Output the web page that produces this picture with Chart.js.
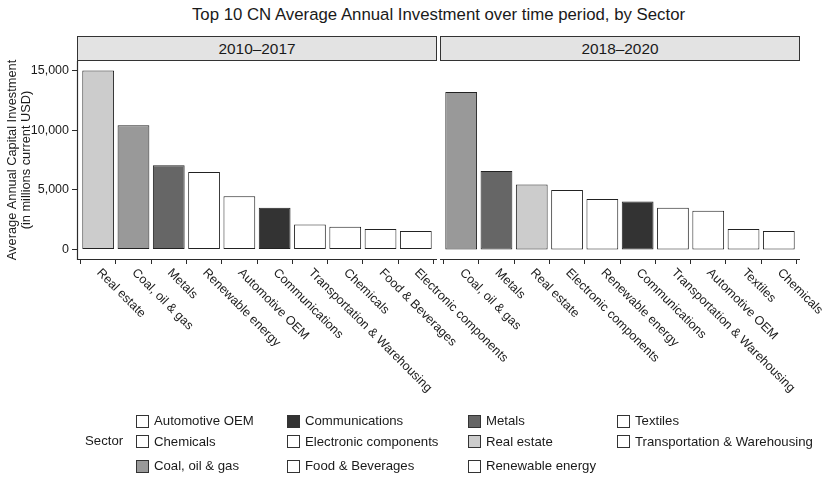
<!DOCTYPE html>
<html lang="en">
<head>
  <meta charset="UTF-8">
  <title>Top 10 CN Average Annual Investment</title>
  <script src="https://cdn.jsdelivr.net/npm/chart.js"></script>
  <style>
    body { margin: 0; width: 827px; height: 477px; position: relative; overflow: hidden; background: #fff;
           font-family: "Liberation Sans", Arial, sans-serif; color: #1a1a1a; }
    canvas { position: absolute; left: 0; top: 0; }
    #title { position: absolute; left: 77px; width: 723px; top: 5px; line-height: 20px; font-size: 16.8px; text-align: center; }
    .strip { position: absolute; top: 36px; height: 25px; width: 360px; box-sizing: border-box; border: 1px solid #333;
             background: #e3e3e3; text-align: center; line-height: 23px; font-size: 15.4px; }
    #legend .key { position: absolute; width: 13px; height: 13px; box-sizing: border-box; border: 1px solid #333; }
    #legend .lab { position: absolute; font-size: 13.2px; line-height: 16px; white-space: nowrap; }
  </style>
</head>
<body>
  <div id="title">Top 10 CN Average Annual Investment over time period, by Sector</div>
  <canvas id="left" width="827" height="477"></canvas>
  <canvas id="right" width="827" height="477"></canvas>
  <div class="strip" style="left:77px">2010–2017</div>
  <div class="strip" style="left:440px">2018–2020</div>
  <div id="legend"></div>

  <script>
    // sectors in legend order, and their fill
    const sectors = ['Automotive OEM', 'Chemicals', 'Coal, oil & gas', 'Communications', 'Electronic components',
                     'Food & Beverages', 'Metals', 'Real estate', 'Renewable energy', 'Textiles', 'Transportation & Warehousing'];
    const sectorFill = {
      'Coal, oil & gas': '#999999', 'Communications': '#333333', 'Metals': '#666666', 'Real estate': '#cccccc'
    };

    const periods = ['2010–2017', '2018–2020'];
    const cats2010 = ['Real estate', 'Coal, oil & gas', 'Metals', 'Renewable energy', 'Automotive OEM', 'Communications',
                      'Transportation & Warehousing', 'Chemicals', 'Food & Beverages', 'Electronic components'];
    const vals2010 = [15000, 10400, 7050, 6500, 4460, 3510, 2090, 1920, 1730, 1560];
    const cats2018 = ['Coal, oil & gas', 'Metals', 'Real estate', 'Electronic components', 'Renewable energy', 'Communications',
                      'Transportation & Warehousing', 'Automotive OEM', 'Textiles', 'Chemicals'];
    const vals2018 = [13190, 6580, 5440, 4990, 4240, 4020, 3510, 3260, 1730, 1560];
    const yTicks = [0, 5000, 10000, 15000];

    const FONT = '"Liberation Sans", Arial, sans-serif';
    const INK = '#1a1a1a';
    const LINE = '#2b2b2b';

    function fillOf(s) { return sectorFill[s] || '#ffffff'; }

    // axis lines + ggplot-style slanted labels (start at the tick, run down to the right)
    const panelDecor = {
      id: 'panelDecor',
      afterDraw(chart, args, opts) {
        const sx = chart.scales.x;
        const area = chart.chartArea;
        const ctx = chart.ctx;
        ctx.save();
        ctx.strokeStyle = LINE;
        ctx.lineWidth = 1.2;
        ctx.beginPath();
        ctx.moveTo(area.left, Math.round(area.bottom) + 0.5);
        ctx.lineTo(area.right, Math.round(area.bottom) + 0.5);
        if (opts.yLine) {
          ctx.moveTo(Math.round(area.left) + 0.5, area.top);
          ctx.lineTo(Math.round(area.left) + 0.5, area.bottom + 1);
        }
        ctx.stroke();

        ctx.font = '12.5px ' + FONT;
        ctx.fillStyle = INK;
        ctx.textAlign = 'left';
        ctx.textBaseline = 'alphabetic';
        opts.labels.forEach((lab, i) => {
          const x = sx.getPixelForValue(i + 1);
          ctx.save();
          ctx.translate(x + 4.5, sx.top + 8);
          ctx.rotate(Math.PI / 4);
          ctx.fillText(lab, 0, 9);
          ctx.restore();
        });
        ctx.restore();
      }
    };

    function makePanel(id, cats, vals, showY) {
      const ctx = document.getElementById(id).getContext('2d');
      return new Chart(ctx, {
        type: 'bar',
        data: {
          datasets: [{
            data: cats.map((c, i) => ({ x: i + 1, y: vals[i] })),
            backgroundColor: cats.map(fillOf),
            borderColor: '#222',
            borderWidth: 1,
            borderSkipped: false,
            categoryPercentage: 0.9,
            barPercentage: 1
          }]
        },
        options: {
          responsive: false,
          animation: false,
          devicePixelRatio: 1,
          layout: { padding: showY ? { top: 61, left: 0, right: 390, bottom: 0 }
                                   : { top: 61, left: 440, right: 27, bottom: 0 } },
          plugins: {
            legend: { display: false },
            tooltip: { enabled: false },
            panelDecor: { labels: cats, yLine: showY }
          },
          scales: {
            x: {
              type: 'linear', min: 0.4, max: 10.6, offset: false,
              afterBuildTicks: s => { s.ticks = cats.map((c, i) => ({ value: i + 1 })); },
              afterFit: s => { s.height = 218; },
              ticks: { display: false },
              grid: { drawOnChartArea: false, drawTicks: true, tickLength: 5, color: LINE },
              border: { display: false }
            },
            y: {
              display: showY,
              min: -790, max: 15790,
              afterBuildTicks: s => { s.ticks = yTicks.map(v => ({ value: v })); },
              afterFit: s => { s.width = showY ? 77 : 0; },
              ticks: {
                color: INK, padding: 3,
                font: { family: FONT, size: 12.5 },
                callback: v => v.toLocaleString('en-US')
              },
              grid: { drawOnChartArea: false, drawTicks: true, tickLength: 5, color: LINE },
              border: { display: false },
              title: {
                display: true,
                text: ['Average Annual Capital Investment', '(in millions current USD)'],
                color: INK,
                font: { family: FONT, size: 12.8, lineHeight: 1.1 },
                padding: { top: 5.5, bottom: 0 }
              }
            }
          }
        },
        plugins: [panelDecor]
      });
    }

    makePanel('left', cats2010, vals2010, true);
    makePanel('right', cats2018, vals2018, false);

    // legend: 3 rows, filled column by column
    const legend = document.getElementById('legend');
    const colKeyX = [136, 287, 468, 617];
    const rowY = [421, 441.5, 466];
    const sectorLab = document.createElement('div');
    sectorLab.className = 'lab';
    sectorLab.textContent = 'Sector';
    sectorLab.style.left = '85px';
    sectorLab.style.top = (440.5 - 8) + 'px';
    legend.appendChild(sectorLab);
    sectors.forEach((s, i) => {
      const col = Math.floor(i / 3), row = i % 3;
      const key = document.createElement('div');
      key.className = 'key';
      key.style.left = colKeyX[col] + 'px';
      key.style.top = (rowY[row] - 6.5) + 'px';
      key.style.background = fillOf(s);
      legend.appendChild(key);
      const lab = document.createElement('div');
      lab.className = 'lab';
      lab.textContent = s;
      lab.style.left = (colKeyX[col] + 18) + 'px';
      lab.style.top = (rowY[row] - 8) + 'px';
      legend.appendChild(lab);
    });
  </script>
</body>
</html>
